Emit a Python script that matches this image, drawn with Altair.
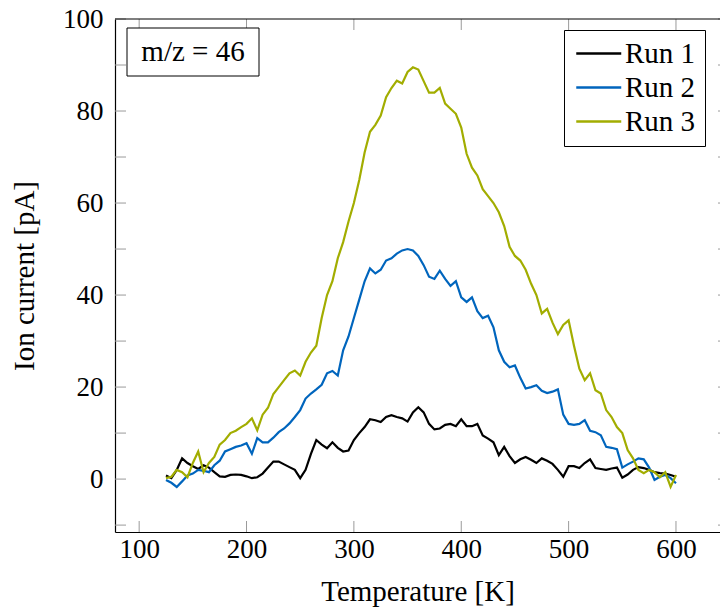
import altair as alt
import pandas as pd

# ---- data ----
temps = list(range(125, 601, 5))

run1 = [0.8, 0.2, 2, 4.5, 3.5, 2.8, 2.2, 3, 2.5, 1.5,
        0.6, 0.5, 0.9, 1, 0.9, 0.6, 0.2, 0.4, 1.2, 2.5,
        3.8, 3.8, 3.2, 2.6, 2.0, 0.2, 2, 5.5, 8.5, 7.5,
        6.7, 8, 6.8, 6, 6.2, 8.5, 10, 11.3, 13, 12.8,
        12.4, 13.5, 13.9, 13.5, 13.2, 12.5, 14.5, 15.6, 14.5, 12,
        10.8, 11, 11.8, 12, 11.5, 13, 11.5, 11.5, 12, 9.5,
        8.8, 8, 5.2, 7, 5, 3.5, 4.3, 4.8, 4.2, 3.5,
        4.5, 4, 3.3, 2, 0.5, 2.8, 2.8, 2.4, 3.5, 4.3,
        2.4, 2.2, 2, 2.3, 2.5, 0.3, 1, 2, 2.6, 2.4,
        2, 1.5, 1.3, 1.2, 0.9, 0.5]

run2 = [-0.2, -0.8, -1.7, -0.5, 0.8, 1.2, 2, 1.8, 1.5, 3,
        4, 6, 6.5, 7, 7.3, 7.8, 5.5, 8.9, 8, 8,
        9, 10.2, 11, 12.1, 13.5, 15, 17.5, 18.6, 19.5, 20.5,
        23, 23.5, 22.5, 28, 31, 35, 39, 43, 45.8, 44.7,
        45.5, 47.5, 48, 49, 49.7, 50, 49.7, 48.5, 46.5, 44,
        43.5, 45.3, 43.5, 42, 43, 39.5, 38.5, 39.5, 36.5, 35,
        35.5, 33, 28, 25.5, 24.3, 24.7, 22, 19.7, 20, 20.4,
        19.2, 18.7, 19, 19.5, 14, 12, 11.8, 12, 12.8, 10.5,
        10.2, 9.5, 7, 6.8, 6.5, 2.5, 3.2, 3.8, 4.5, 4.3,
        2.5, -0.2, 0.5, 0.9, 0.2, -0.9]

run3 = [0.2, 0.5, 2, 1.5, 0.4, 3.5, 6, 1.5, 3.5, 4.8,
        7.5, 8.5, 10, 10.5, 11.3, 12, 13.2, 10.6, 14, 15.5,
        18.5, 20, 21.5, 23, 23.6, 22.5, 25.5, 27.5, 29, 35,
        40, 43, 48, 51.5, 56, 60, 65, 71, 75.5, 77,
        79, 83, 85, 86.6, 86, 88.5, 89.5, 89, 86.5, 84,
        84, 85, 81.6, 80.5, 79.4, 76.4, 70.7, 67.7, 66, 63,
        61.5, 60, 58, 55, 50.5, 48.5, 47.5, 45.5, 42.5, 40,
        36, 37, 34, 31.5, 33.5, 34.5, 29, 24, 21.5, 23,
        19.3, 18.6, 15, 13.5, 11.3, 10, 6.3, 4.5, 2, 1.3,
        2, 1.5, 0.4, 1.5, -1.7, 0.9]

run_names = ["Run 1", "Run 2", "Run 3"]
run_colors = ["#000000", "#0065BD", "#A2AD00"]

x_ticks = [100, 200, 300, 400, 500, 600]
y_labels = [0, 20, 40, 60, 80, 100]
y_ticks = [-10, 0, 10, 20, 30, 40, 50, 60, 70, 80, 90, 100]
annotation = "m/z = 46"

# ---- build table ----
n = len(temps)
df = pd.DataFrame({
    "T": temps * 3,
    "I": run1 + run2 + run3,
    "Run": [run_names[0]] * n + [run_names[1]] * n + [run_names[2]] * n,
})

W, H = 605, 513
FONT = "Liberation Serif"
NUM_FS = 27
TXT_FS = 29

xscale = alt.Scale(domain=[77.5, 641], nice=False, zero=False)
yscale = alt.Scale(domain=[-11.5, 100], nice=False, zero=False)

lines = alt.Chart(df).mark_line(strokeWidth=2.2).encode(
    x=alt.X("T:Q", scale=xscale,
            axis=alt.Axis(title="Temperature [K]", values=x_ticks, ticks=False,
                          grid=False, labelPadding=4, titlePadding=15)),
    y=alt.Y("I:Q", scale=yscale,
            axis=alt.Axis(title="Ion current [pA]", values=y_labels, ticks=False,
                          grid=False, labelPadding=12, titlePadding=23)),
    color=alt.Color("Run:N",
                    scale=alt.Scale(domain=run_names, range=run_colors),
                    legend=alt.Legend(title=None, orient="none", legendX=449, legendY=11,
                                      fillColor="white", strokeColor="black",
                                      padding=9, symbolType="M-1,0H3", symbolSize=506,
                                      symbolStrokeWidth=2.5, labelFont=FONT,
                                      labelFontSize=TXT_FS, labelOffset=23, labelColor="black",
                                      labelExpr="datum.label + '\u2002'",
                                      rowPadding=4, labelLimit=200)),
)

ydf = pd.DataFrame({"I": y_ticks})
xdf = pd.DataFrame({"T": x_ticks})
tick_style = dict(color="#9a9a9a", strokeWidth=1)

left_ticks = alt.Chart(ydf).mark_rule(**tick_style).encode(
    y=alt.Y("I:Q", scale=yscale), x=alt.value(0), x2=alt.value(11))
right_ticks = alt.Chart(ydf).mark_rule(**tick_style).encode(
    y=alt.Y("I:Q", scale=yscale), x=alt.value(W - 2), x2=alt.value(W))
bottom_ticks = alt.Chart(xdf).mark_rule(**tick_style).encode(
    x=alt.X("T:Q", scale=xscale), y=alt.value(H - 11), y2=alt.value(H))
top_ticks = alt.Chart(xdf).mark_rule(**tick_style).encode(
    x=alt.X("T:Q", scale=xscale), y=alt.value(0), y2=alt.value(11))

frame_df = pd.DataFrame({"a": [0]})
top_line = alt.Chart(frame_df).mark_rule(color="black", strokeWidth=1.2).encode(
    x=alt.value(0), x2=alt.value(W), y=alt.value(0))

ann_df = pd.DataFrame({"label": [annotation]})
ann_box = alt.Chart(ann_df).mark_rect(fill="white", stroke="black", strokeWidth=1).encode(
    x=alt.value(12), x2=alt.value(144), y=alt.value(9), y2=alt.value(57))
ann_text = alt.Chart(ann_df).mark_text(font=FONT, fontSize=TXT_FS, color="black",
                                       align="center", baseline="alphabetic").encode(
    x=alt.value(78), y=alt.value(42), text="label:N")

chart = alt.layer(
    left_ticks, right_ticks, bottom_ticks, top_ticks, lines, top_line, ann_box, ann_text
).properties(
    width=W, height=H,
    padding={"left": 115, "top": 19, "right": 0, "bottom": 75},
    autosize=alt.AutoSizeParams(type="none"),
).configure_view(stroke=None).configure_axis(
    labelFont=FONT, labelFontSize=NUM_FS, labelColor="black",
    titleFont=FONT, titleFontSize=TXT_FS, titleFontWeight="normal", titleColor="black",
    domainColor="black", domainWidth=1.2,
)

chart.save("out.html", embed_options={"renderer": "svg", "actions": False})
